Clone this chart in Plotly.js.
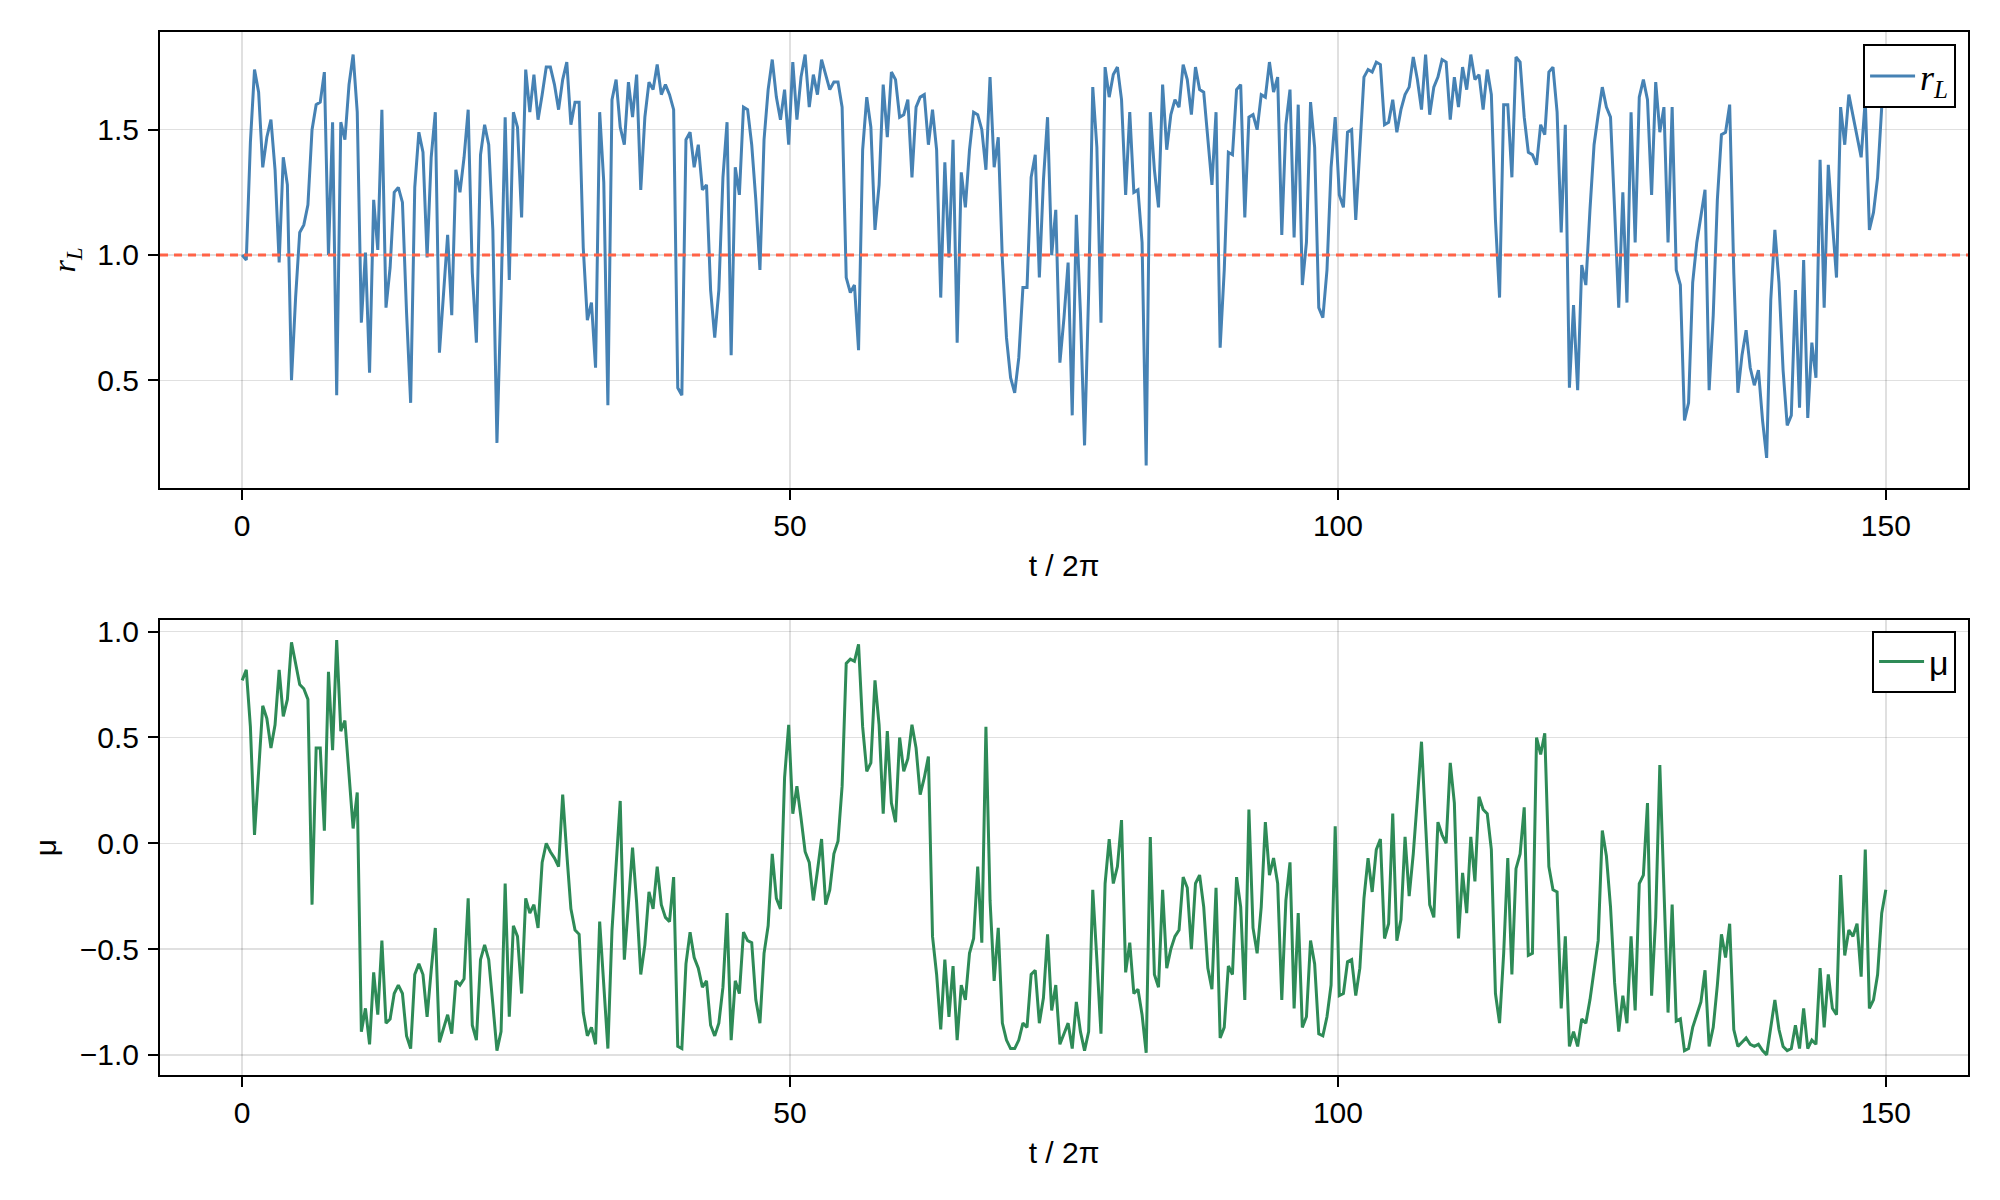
<!DOCTYPE html>
<html>
<head>
<meta charset="utf-8">
<script src="https://cdn.plot.ly/plotly-3.0.1.min.js"></script>
<style>
  html, body { margin: 0; padding: 0; background: white; }
</style>
</head>
<body>
<div id="plot"></div>
<script>
// sampling step of t / 2pi
var dt = 0.375;

// r_L
var rL = [
  1.00, 0.98, 1.45, 1.74, 1.65, 1.35, 1.47, 1.54, 1.34, 0.97,
  1.39, 1.28, 0.50, 0.83, 1.09, 1.12, 1.20, 1.50, 1.60, 1.61,
  1.73, 1.00, 1.53, 0.44, 1.53, 1.46, 1.68, 1.80, 1.57, 0.73,
  1.01, 0.53, 1.22, 1.02, 1.58, 0.79, 0.95, 1.25, 1.27, 1.21,
  0.77, 0.41, 1.27, 1.49, 1.41, 0.99, 1.39, 1.57, 0.61, 0.85,
  1.08, 0.76, 1.34, 1.25, 1.39, 1.58, 0.93, 0.65, 1.40, 1.52,
  1.44, 1.10, 0.25, 0.83, 1.55, 0.90, 1.57, 1.51, 1.15, 1.74,
  1.57, 1.72, 1.54, 1.64, 1.75, 1.75, 1.68, 1.58, 1.70, 1.77,
  1.52, 1.61, 1.61, 1.03, 0.74, 0.81, 0.55, 1.57, 1.29, 0.40,
  1.62, 1.70, 1.51, 1.44, 1.69, 1.55, 1.72, 1.26, 1.55, 1.69,
  1.66,
  1.76, 1.64, 1.68, 1.64, 1.58, 0.47, 0.44, 1.46, 1.49, 1.35,
  1.44, 1.26, 1.28, 0.86, 0.67, 0.86, 1.31, 1.53, 0.60, 1.35,
  1.24, 1.59, 1.58, 1.44, 1.22, 0.94, 1.46, 1.66, 1.78, 1.63,
  1.54, 1.66, 1.44, 1.77, 1.54, 1.71, 1.80, 1.59, 1.72, 1.64,
  1.78, 1.72, 1.66, 1.69, 1.69, 1.59, 0.91, 0.85, 0.88, 0.62,
  1.42, 1.63, 1.51, 1.10, 1.28, 1.68, 1.47, 1.73, 1.70, 1.55,
  1.56, 1.62, 1.31, 1.59, 1.63, 1.64, 1.44, 1.58, 1.42, 0.83,
  1.37, 0.99, 1.46, 0.65, 1.33, 1.19, 1.42, 1.57, 1.56, 1.50,
  1.34, 1.71, 1.35, 1.47, 0.98, 0.67, 0.51, 0.45, 0.59, 0.87,
  0.87, 1.31, 1.40, 0.91, 1.30, 1.55, 1.00, 1.18, 0.57, 0.75,
  0.97,
  0.36, 1.16, 0.77, 0.24, 0.85, 1.67, 1.43, 0.73, 1.75, 1.63,
  1.72, 1.75, 1.62, 1.24, 1.57, 1.25, 1.26, 1.05, 0.16, 1.57,
  1.34, 1.19, 1.68, 1.42, 1.56, 1.62, 1.59, 1.76, 1.70, 1.56,
  1.75, 1.66, 1.65, 1.46, 1.28, 1.57, 0.63, 0.94, 1.41, 1.40,
  1.66, 1.68, 1.15, 1.55, 1.56, 1.50, 1.64, 1.63, 1.77, 1.65,
  1.71, 1.08, 1.52, 1.66, 1.07, 1.60, 0.88, 1.05, 1.61, 1.43,
  0.79, 0.75, 0.94, 1.35, 1.55, 1.24, 1.19, 1.49, 1.50, 1.14,
  1.43, 1.71, 1.74, 1.73, 1.77, 1.76, 1.52, 1.53, 1.62, 1.49,
  1.58, 1.64, 1.67, 1.79, 1.70, 1.58, 1.80, 1.56, 1.67, 1.71,
  1.78, 1.77, 1.54, 1.71, 1.59, 1.75, 1.66, 1.80, 1.70, 1.72,
  1.58,
  1.74, 1.64, 1.14, 0.83, 1.60, 1.60, 1.31, 1.79, 1.77, 1.55,
  1.41, 1.40, 1.36, 1.52, 1.48, 1.73, 1.75, 1.57, 1.09, 1.52,
  0.47, 0.80, 0.46, 0.96, 0.88, 1.18, 1.44, 1.56, 1.67, 1.59,
  1.55, 1.18, 0.79, 1.25, 0.81, 1.57, 1.05, 1.63, 1.70, 1.62,
  1.24, 1.69, 1.49, 1.59, 1.05, 1.59, 0.94, 0.88, 0.34, 0.41,
  0.89, 1.05, 1.16, 1.26, 0.46, 0.76, 1.22, 1.48, 1.49, 1.60,
  0.93, 0.45, 0.60, 0.70, 0.55, 0.48, 0.54, 0.34, 0.19, 0.82,
  1.10, 0.89, 0.54, 0.32, 0.36, 0.86, 0.39, 0.98, 0.35, 0.65,
  0.51, 1.38, 0.79, 1.36, 1.13, 0.91, 1.59, 1.44, 1.64, 1.56,
  1.47, 1.39, 1.62, 1.10, 1.17, 1.31, 1.59, 1.62
];

// mu
var mu = [
  0.77, 0.82, 0.55, 0.04, 0.34, 0.65, 0.59, 0.45, 0.56, 0.82,
  0.60, 0.68, 0.95, 0.85, 0.75, 0.73, 0.68, -0.29, 0.45, 0.45,
  0.06, 0.81, 0.44, 0.96, 0.53, 0.58, 0.30, 0.07, 0.24, -0.89,
  -0.78, -0.95, -0.61, -0.81, -0.46, -0.85, -0.83, -0.71, -0.67, -0.71,
  -0.91, -0.97, -0.62, -0.57, -0.62, -0.82, -0.60, -0.40, -0.94, -0.88,
  -0.81, -0.90, -0.65, -0.67, -0.64, -0.26, -0.86, -0.93, -0.55, -0.48,
  -0.55, -0.76, -0.98, -0.89, -0.19, -0.82, -0.39, -0.44, -0.71, -0.26,
  -0.33, -0.29, -0.40, -0.09, 0.00, -0.04, -0.07, -0.11, 0.23, -0.05,
  -0.31, -0.41, -0.43, -0.80, -0.91, -0.87, -0.95, -0.37, -0.67, -0.97,
  -0.41, -0.13, 0.20, -0.55, -0.26, -0.02, -0.28, -0.62, -0.48, -0.23,
  -0.31,
  -0.11, -0.29, -0.35, -0.37, -0.16, -0.96, -0.97, -0.57, -0.42, -0.54,
  -0.59, -0.68, -0.65, -0.86, -0.91, -0.85, -0.68, -0.33, -0.93, -0.65,
  -0.71, -0.42, -0.46, -0.47, -0.74, -0.85, -0.52, -0.39, -0.05, -0.26,
  -0.31, 0.31, 0.56, 0.14, 0.27, 0.12, -0.04, -0.09, -0.27, -0.13,
  0.02, -0.29, -0.22, -0.05, 0.01, 0.27, 0.85, 0.87, 0.86, 0.94,
  0.55, 0.34, 0.38, 0.77, 0.56, 0.14, 0.53, 0.19, 0.10, 0.50,
  0.34, 0.40, 0.56, 0.45, 0.23, 0.31, 0.41, -0.44, -0.62, -0.88,
  -0.55, -0.82, -0.58, -0.93, -0.67, -0.74, -0.52, -0.45, -0.11, -0.47,
  0.55, -0.27, -0.65, -0.40, -0.85, -0.93, -0.97, -0.97, -0.93, -0.85,
  -0.87, -0.62, -0.60, -0.85, -0.73, -0.43, -0.79, -0.67, -0.95, -0.90,
  -0.85,
  -0.97, -0.75, -0.89, -0.98, -0.89, -0.22, -0.55, -0.90, -0.19, 0.02,
  -0.19, -0.11, 0.11, -0.61, -0.47, -0.71, -0.69, -0.81, -0.99, 0.03,
  -0.62, -0.68, -0.22, -0.59, -0.50, -0.44, -0.41, -0.16, -0.21, -0.50,
  -0.19, -0.15, -0.30, -0.59, -0.69, -0.21, -0.92, -0.87, -0.58, -0.62,
  -0.16, -0.30, -0.74, 0.16, -0.40, -0.52, -0.30, 0.10, -0.15, -0.07,
  -0.19, -0.74, -0.27, -0.09, -0.78, -0.33, -0.87, -0.82, -0.46, -0.57,
  -0.90, -0.91, -0.82, -0.67, 0.08, -0.72, -0.71, -0.56, -0.55, -0.72,
  -0.59, -0.26, -0.07, -0.23, -0.03, 0.02, -0.45, -0.38, 0.14, -0.46,
  -0.36, 0.03, -0.25, -0.05, 0.21, 0.48, 0.09, -0.29, -0.35, 0.10,
  0.04, 0.00, 0.38, 0.19, -0.45, -0.14, -0.33, 0.03, -0.18, 0.22,
  0.16,
  0.14, -0.03, -0.71, -0.85, -0.52, -0.07, -0.62, -0.12, -0.05, 0.17,
  -0.53, -0.52, 0.50, 0.42, 0.52, -0.11, -0.22, -0.23, -0.78, -0.44,
  -0.96, -0.89, -0.96, -0.83, -0.85, -0.74, -0.60, -0.46, 0.06, -0.06,
  -0.30, -0.66, -0.89, -0.72, -0.85, -0.44, -0.79, -0.19, -0.15, 0.19,
  -0.72, -0.35, 0.37, -0.21, -0.80, -0.29, -0.84, -0.83, -0.98, -0.97,
  -0.87, -0.81, -0.75, -0.60, -0.96, -0.87, -0.67, -0.43, -0.54, -0.38,
  -0.88, -0.96, -0.94, -0.92, -0.95, -0.96, -0.95, -0.98, -1.00, -0.87,
  -0.74, -0.88, -0.96, -0.98, -0.97, -0.86, -0.97, -0.78, -0.97, -0.93,
  -0.95, -0.59, -0.87, -0.62, -0.78, -0.81, -0.15, -0.53, -0.41, -0.44,
  -0.38, -0.63, -0.03, -0.78, -0.74, -0.62, -0.33, -0.22
];

// tick labels
var xTicks = [0, 50, 100, 150];
var xTickText = ['0', '50', '100', '150'];
var rTicks = [0.5, 1.0, 1.5];
var rTickText = ['0.5', '1.0', '1.5'];
var muTicks = [-1.0, -0.5, 0.0, 0.5, 1.0];
var muTickText = ['\u22121.0', '\u22120.5', '0.0', '0.5', '1.0'];

// reference level drawn dashed in the upper panel
var rRef = 1.0;

// time axis
var t = [];
for (var i = 0; i < rL.length; i++) {
  t.push(i * dt);
}

var sans = 'Liberation Sans, Arial, sans-serif';
var serif = 'Liberation Serif, Times New Roman, serif';

function baseAxis(standoff) {
  return {
    showline: true,
    mirror: true,
    linecolor: 'black',
    linewidth: 2,
    ticks: 'outside',
    ticklen: 10,
    tickwidth: 2,
    tickcolor: 'black',
    ticklabelstandoff: standoff,
    showgrid: true,
    gridcolor: 'rgba(0,0,0,0.12)',
    gridwidth: 1.5,
    zeroline: false,
    tickfont: {family: sans, size: 30, color: 'black'},
    tickmode: 'array'
  };
}

var traceR = {
  x: t,
  y: rL,
  type: 'scatter',
  mode: 'lines',
  name: '<i>r</i><sub><i>L</i></sub>',
  line: {color: '#4682B4', width: 3},
  xaxis: 'x',
  yaxis: 'y',
  legend: 'legend'
};

var traceMu = {
  x: t,
  y: mu,
  type: 'scatter',
  mode: 'lines',
  name: '\u03bc',
  line: {color: '#2E8B57', width: 3},
  xaxis: 'x2',
  yaxis: 'y2',
  legend: 'legend2'
};

var xa = baseAxis(0);
xa.domain = [0, 1];
xa.anchor = 'y';
xa.range = [-7.5, 157.5];
xa.tickvals = xTicks;
xa.ticktext = xTickText;
xa.title = {text: 't / 2\u03c0', font: {family: sans, size: 30}, standoff: 14};

var ya = baseAxis(3);
ya.domain = [0.5628, 1];
ya.anchor = 'x';
ya.range = [0.07, 1.89];
ya.tickvals = rTicks;
ya.ticktext = rTickText;
ya.title = {text: '<i>r</i><sub><i>L</i></sub>', font: {family: serif, size: 32}, standoff: 12};

var xa2 = baseAxis(0);
xa2.domain = [0, 1];
xa2.anchor = 'y2';
xa2.range = [-7.5, 157.5];
xa2.tickvals = xTicks;
xa2.ticktext = xTickText;
xa2.title = {text: 't / 2\u03c0', font: {family: sans, size: 30}, standoff: 14};

var ya2 = baseAxis(3);
ya2.domain = [0, 0.4362];
ya2.anchor = 'x2';
ya2.range = [-1.095, 1.055];
ya2.tickvals = muTicks;
ya2.ticktext = muTickText;
ya2.title = {text: '\u03bc', font: {family: sans, size: 30}, standoff: 14};

var layout = {
  width: 2000,
  height: 1200,
  margin: {l: 160, r: 32, t: 32, b: 125},
  paper_bgcolor: 'white',
  plot_bgcolor: 'white',
  font: {family: sans, size: 30, color: 'black'},
  showlegend: true,
  xaxis: xa,
  yaxis: ya,
  xaxis2: xa2,
  yaxis2: ya2,
  legend: {
    x: 0.9934, y: 0.9885, xanchor: 'right', yanchor: 'top',
    bgcolor: 'white', bordercolor: 'black', borderwidth: 2,
    itemwidth: 45,
    font: {family: serif, size: 36}
  },
  legend2: {
    x: 0.9934, y: 0.4257, xanchor: 'right', yanchor: 'top',
    bgcolor: 'white', bordercolor: 'black', borderwidth: 2,
    itemwidth: 45,
    font: {family: sans, size: 34}
  },
  shapes: [{
    type: 'line',
    xref: 'x domain', yref: 'y',
    x0: 0, x1: 1, y0: rRef, y1: rRef,
    line: {color: '#FF6347', width: 3, dash: '8px,6px'},
    layer: 'above'
  }]
};

Plotly.newPlot('plot', [traceR, traceMu], layout, {staticPlot: true});
</script>
</body>
</html>
